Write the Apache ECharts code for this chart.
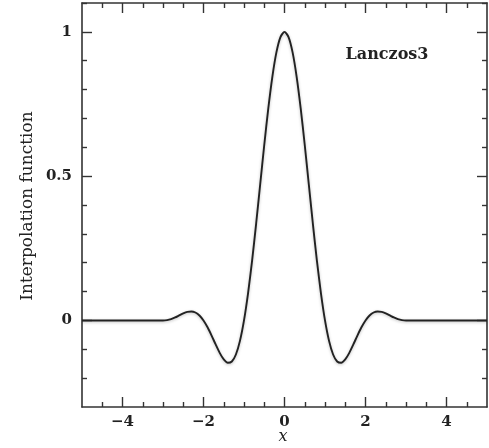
<!DOCTYPE html>
<html>
<head>
<meta charset="utf-8">
<script src="https://cdn.jsdelivr.net/npm/echarts@6/dist/echarts.min.js"></script>
<style>html,body{margin:0;padding:0;background:#fff}#c{width:489px;height:448px}</style>
</head>
<body>
<div id="c"></div>
<script>
// Lanczos3 kernel values
const xValues = [-5, -3.0, -2.9, -2.8, -2.7, -2.6, -2.5, -2.4, -2.3, -2.2, -2.1, -2.0, -1.9, -1.8, -1.7, -1.6, -1.5, -1.4, -1.3, -1.2, -1.1, -1.0, -0.9, -0.8, -0.7, -0.6, -0.5, -0.4, -0.3, -0.2, -0.1, 0,
  0.1, 0.2, 0.3, 0.4, 0.5, 0.6, 0.7, 0.8, 0.9, 1.0, 1.1, 1.2, 1.3, 1.4, 1.5, 1.6, 1.7, 1.8, 1.9, 2.0, 2.1, 2.2, 2.3, 2.4, 2.5, 2.6, 2.7, 2.8, 2.9, 3.0, 5];
const yValues = [0, 0, 0.0012, 0.0047, 0.0104, 0.0174, 0.0243, 0.0295, 0.0311, 0.0274, 0.0172, 0, -0.0238, -0.0524, -0.0832, -0.1123, -0.1351, -0.1467, -0.1423, -0.1180, -0.0709, 0, 0.0938, 0.2075, 0.3358, 0.4720, 0.6079, 0.7349, 0.8443, 0.9287, 0.9818, 1,
  0.9818, 0.9287, 0.8443, 0.7349, 0.6079, 0.4720, 0.3358, 0.2075, 0.0938, 0, -0.0709, -0.1180, -0.1423, -0.1467, -0.1351, -0.1123, -0.0832, -0.0524, -0.0238, 0, 0.0172, 0.0274, 0.0311, 0.0295, 0.0243, 0.0174, 0.0104, 0.0047, 0.0012, 0, 0];

const xMajorTicks = [-4, -2, 0, 2, 4];
const xMinorTicks = [-4.5, -3.5, -3, -2.5, -1.5, -1, -0.5, 0.5, 1, 1.5, 2.5, 3, 3.5, 4.5];
const yMajorTicks = [0, 0.5, 1];
const yMinorTicks = [-0.2, -0.1, 0.1, 0.2, 0.3, 0.4, 0.6, 0.7, 0.8, 0.9, 1.1];
const xLabelValues = [-4, -2, 0, 2, 4];
const yLabelValues = [0, 0.5, 1];
const curveName = 'Lanczos3';
const xTitle = 'x';
const yTitle = 'Interpolation function';

const FONT = 'DejaVu Serif';
const LINE = '#333';

function axis(type, position, ticks, len, labels, showLine) {
  const isX = type === 'x';
  return {
    type: 'value',
    position: position,
    min: isX ? -5 : -0.3,
    max: isX ? 5 : 1.1,
    splitLine: { show: false },
    axisLine: { show: showLine, onZero: false, lineStyle: { color: LINE, width: 1.6 } },
    axisTick: { show: true, inside: true, length: len, customValues: ticks, lineStyle: { color: LINE, width: 1.4 } },
    axisLabel: labels ? {
      show: true, customValues: labels, fontFamily: FONT, fontWeight: 'bold', fontSize: 15, color: '#222',
      margin: isX ? 8 : 10,
      formatter: v => String(v).replace('-', '\u2212')
    } : { show: false }
  };
}

const chart = echarts.init(document.getElementById('c'), null, { renderer: 'canvas' });
chart.setOption({
  animation: false,
  backgroundColor: '#fff',
  grid: { left: 82, right: 2, top: 3, bottom: 41 },
  xAxis: [
    axis('x', 'bottom', xMajorTicks, 10, xLabelValues, true),
    axis('x', 'bottom', xMinorTicks, 5, null, false),
    axis('x', 'top', xMajorTicks, 10, null, true),
    axis('x', 'top', xMinorTicks, 5, null, false)
  ],
  yAxis: [
    axis('y', 'left', yMajorTicks, 10, yLabelValues, true),
    axis('y', 'left', yMinorTicks, 5, null, false),
    axis('y', 'right', yMajorTicks, 10, null, true),
    axis('y', 'right', yMinorTicks, 5, null, false)
  ],
  series: [{
    type: 'line',
    xAxisIndex: 0, yAxisIndex: 0,
    data: xValues.map((x, i) => [x, yValues[i]]),
    showSymbol: false,
    smooth: 0.25,
    lineStyle: { color: '#222', width: 1.9, shadowColor: 'rgba(0,0,0,0.25)', shadowBlur: 3, shadowOffsetY: 1 }
  }],
  graphic: [
    { type: 'text', x: 387, y: 55, style: { text: curveName, font: 'bold 16px "DejaVu Serif"', fill: '#222', align: 'center', verticalAlign: 'middle' } },
    { type: 'text', x: 28, y: 206, rotation: Math.PI / 2, style: { text: yTitle, font: '17px "DejaVu Serif"', fill: '#222', align: 'center', verticalAlign: 'middle' } },
    { type: 'text', x: 283, y: 437, style: { text: xTitle, font: 'italic 16px "DejaVu Serif"', fill: '#222', align: 'center', verticalAlign: 'middle' } }
  ]
});
</script>
</body>
</html>
